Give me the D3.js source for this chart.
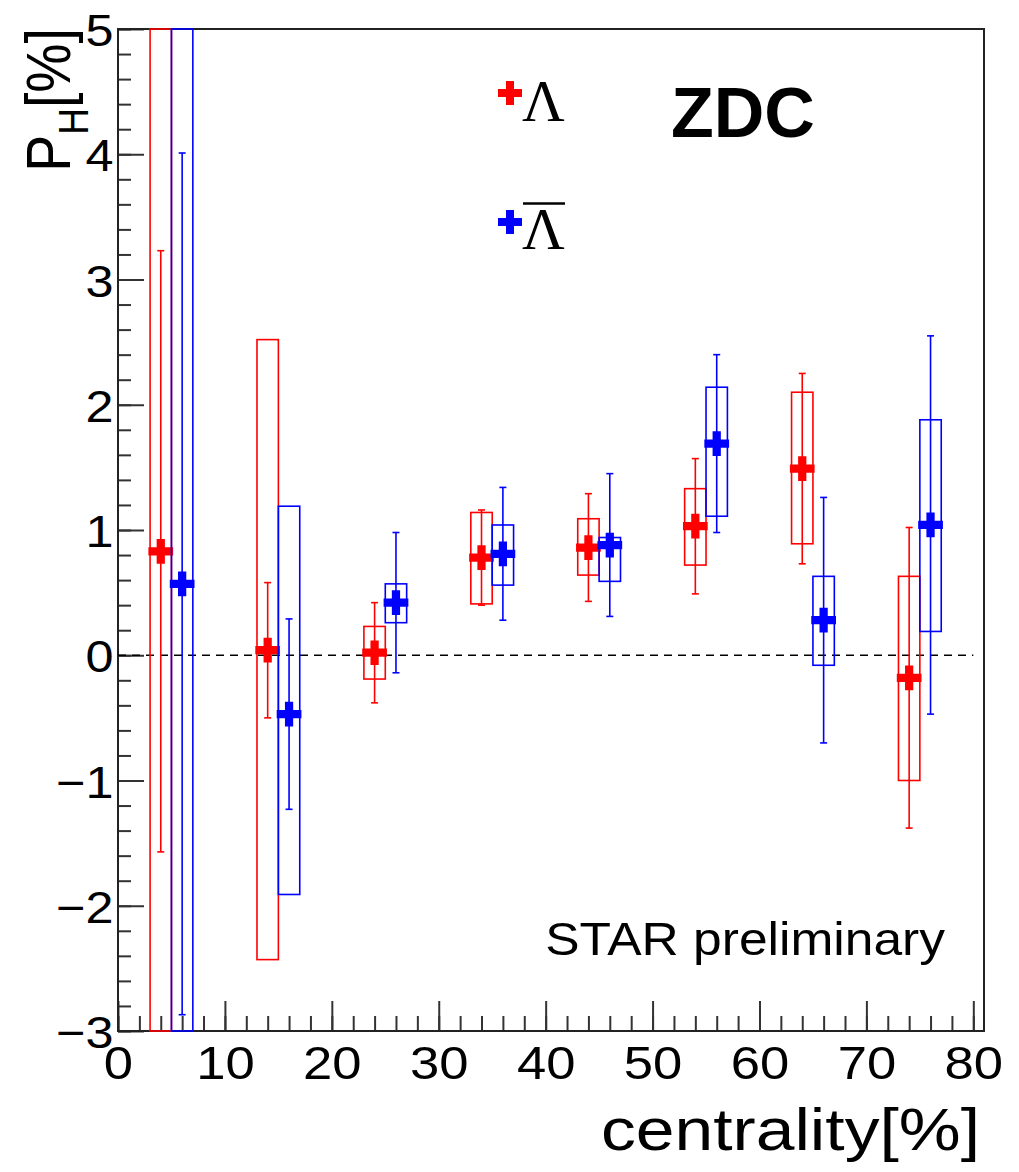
<!DOCTYPE html>
<html>
<head>
<meta charset="utf-8">
<script src="https://cdn.jsdelivr.net/npm/d3@7"></script>
<style>
  body { margin: 0; background: #fff; }
  svg { display: block; }
  text { fill: #000; }
</style>
</head>
<body>
<div id="chart"></div>
<script>
// centrality bin positions (points offset by +-1 around the bin centre)
const lambdaX = [4, 14, 24, 34, 44, 54, 64, 74];
const antiX = [6, 16, 26, 36, 46, 56, 66, 76];

// Lambda: P_H value, statistical error, systematic box low/high
const lambdaVal = [0.83, 0.04, 0.02, 0.78, 0.86, 1.03, 1.49, -0.18];
const lambdaStat = [2.40, 0.54, 0.40, 0.38, 0.43, 0.54, 0.76, 1.20];
const lambdaSysLo = [-4.2, -2.43, -0.19, 0.41, 0.64, 0.72, 0.89, -1.00];
const lambdaSysHi = [5.8, 2.52, 0.23, 1.14, 1.09, 1.33, 2.10, 0.63];

// anti-Lambda
const antiVal = [0.57, -0.47, 0.42, 0.81, 0.88, 1.69, 0.28, 1.04];
const antiStat = [3.44, 0.76, 0.56, 0.53, 0.57, 0.71, 0.98, 1.51];
const antiSysLo = [-4.5, -1.91, 0.26, 0.56, 0.59, 1.11, -0.08, 0.19];
const antiSysHi = [5.6, 1.19, 0.57, 1.04, 0.94, 2.14, 0.63, 1.88];

const xTicks = [0, 10, 20, 30, 40, 50, 60, 70, 80];
const yTicks = [-3, -2, -1, 0, 1, 2, 3, 4, 5];

const SANS = '"Liberation Sans", Arial, sans-serif';
const SERIF = '"Liberation Serif", "Times New Roman", serif';

const W = 1019, H = 1172;
const margin = { top: 29, right: 35, bottom: 141, left: 118 };
const width = W - margin.left - margin.right;
const height = H - margin.top - margin.bottom;

const svg = d3.select('#chart')
  .append('svg')
    .attr('width', W)
    .attr('height', H)
    .style('font-family', SANS);

const g = svg.append('g')
  .attr('transform', `translate(${margin.left},${margin.top})`);

const x = d3.scaleLinear().domain([0, 81]).range([0, width]);
const y = d3.scaleLinear().domain([-3, 5]).range([height, 0]);

const SX = 1.12; // labels in the original are a bit wider than Liberation Sans

// minor ticks
g.append('g')
  .attr('class', 'x-minor')
  .attr('transform', `translate(0,${height})`)
  .call(d3.axisBottom(x).tickValues(d3.range(0, 81, 2)).tickSize(-15).tickSizeOuter(0).tickFormat(''));

g.append('g')
  .attr('class', 'y-minor')
  .call(d3.axisLeft(y).tickValues(d3.range(-3, 5.001, 0.2)).tickSize(-13).tickSizeOuter(0).tickFormat(''));

// major ticks with labels
const xAxis = g.append('g')
  .attr('class', 'x-axis')
  .attr('transform', `translate(0,${height})`)
  .call(d3.axisBottom(x).tickValues(xTicks).tickSize(-30).tickSizeOuter(0).tickPadding(15));

const yAxis = g.append('g')
  .attr('class', 'y-axis')
  .call(d3.axisLeft(y).tickValues(yTicks).tickSize(-26).tickSizeOuter(0).tickPadding(4));

g.selectAll('.domain').remove();
g.selectAll('.tick line').attr('stroke', '#333').attr('stroke-width', 2);

xAxis.selectAll('text')
  .attr('font-size', 47)
  .attr('font-family', SANS)
  .attr('transform', `scale(${SX},1)`);

yAxis.selectAll('text')
  .attr('font-size', 45)
  .attr('font-family', SANS)
  .attr('dy', '0.37em')
  .attr('transform', `scale(${SX},1)`);

// frame
g.append('rect')
  .attr('x', 0).attr('y', 0)
  .attr('width', width).attr('height', height)
  .attr('fill', 'none')
  .attr('stroke', '#222')
  .attr('stroke-width', 2);

// zero line
g.append('line')
  .attr('x1', x(0)).attr('x2', x(80))
  .attr('y1', y(0)).attr('y2', y(0))
  .attr('stroke', '#000')
  .attr('stroke-width', 1.5)
  .attr('stroke-dasharray', '8,6');

const clampY = v => y(Math.max(-3, Math.min(5, v)));

function drawSeries(xs, vals, stat, sysLo, sysHi, color) {
  const data = xs.map((d, i) => ({ x: d, v: vals[i], s: stat[i], lo: sysLo[i], hi: sysHi[i] }));
  const s = g.append('g');

  s.selectAll('rect.sys')
    .data(data)
    .enter().append('rect')
      .attr('class', 'sys')
      .attr('x', d => x(d.x - 1))
      .attr('y', d => clampY(d.hi))
      .attr('width', d => x(d.x + 1) - x(d.x - 1))
      .attr('height', d => clampY(d.lo) - clampY(d.hi))
      .attr('fill', 'none')
      .attr('stroke', color)
      .attr('stroke-width', 1.6);

  s.selectAll('line.stat')
    .data(data)
    .enter().append('line')
      .attr('class', 'stat')
      .attr('x1', d => x(d.x)).attr('x2', d => x(d.x))
      .attr('y1', d => clampY(d.v + d.s))
      .attr('y2', d => clampY(d.v - d.s))
      .attr('stroke', color)
      .attr('stroke-width', 1.6);

  ['top', 'bottom'].forEach(k => {
    s.selectAll(`line.cap-${k}`)
      .data(data)
      .enter().append('line')
        .attr('class', `cap-${k}`)
        .attr('x1', d => x(d.x) - 3.5).attr('x2', d => x(d.x) + 3.5)
        .attr('y1', d => clampY(k === 'top' ? d.v + d.s : d.v - d.s))
        .attr('y2', d => clampY(k === 'top' ? d.v + d.s : d.v - d.s))
        .attr('stroke', color)
        .attr('stroke-width', 1.6);
  });

  s.selectAll('path.marker')
    .data(data)
    .enter().append('path')
      .attr('class', 'marker')
      .attr('d', d3.symbol(d3.symbolCross, 340))
      .attr('transform', d => `translate(${x(d.x)},${y(d.v)})`)
      .attr('fill', color);
}

drawSeries(lambdaX, lambdaVal, lambdaStat, lambdaSysLo, lambdaSysHi, '#ff0000');
drawSeries(antiX, antiVal, antiStat, antiSysLo, antiSysHi, '#0000ff');

// legend
const legend = svg.append('g').attr('class', 'legend');
legend.append('path')
  .attr('d', d3.symbol(d3.symbolCross, 320))
  .attr('transform', 'translate(510,93)')
  .attr('fill', '#ff0000');
legend.append('text')
  .attr('x', 522).attr('y', 121)
  .style('font-family', SERIF)
  .attr('font-size', 59)
  .text('Λ');
legend.append('path')
  .attr('d', d3.symbol(d3.symbolCross, 320))
  .attr('transform', 'translate(510,222)')
  .attr('fill', '#0000ff');
legend.append('text')
  .attr('x', 522).attr('y', 249)
  .style('font-family', SERIF)
  .attr('font-size', 59)
  .text('Λ');
legend.append('line')
  .attr('x1', 523).attr('x2', 565)
  .attr('y1', 203.5).attr('y2', 203.5)
  .attr('stroke', '#000')
  .attr('stroke-width', 2.5);

// labels
svg.append('text')
  .attr('x', 671).attr('y', 137)
  .attr('font-size', 70)
  .attr('font-weight', 'bold')
  .text('ZDC');

svg.append('text')
  .attr('transform', `translate(945,955) scale(1.12,1)`)
  .attr('text-anchor', 'end')
  .attr('font-size', 46)
  .text('STAR preliminary');

svg.append('text')
  .attr('transform', `translate(980,1150) scale(1.16,1)`)
  .attr('text-anchor', 'end')
  .attr('font-size', 60)
  .text('centrality[%]');

const yl = svg.append('text')
  .attr('transform', 'translate(70,28) rotate(-90) scale(0.88,1)')
  .attr('text-anchor', 'end')
  .attr('font-size', 63);
yl.append('tspan').text('P');
yl.append('tspan').attr('font-size', 42).attr('dy', 18).text('H');
yl.append('tspan').attr('dy', -18).text('[%]');
</script>
</body>
</html>
